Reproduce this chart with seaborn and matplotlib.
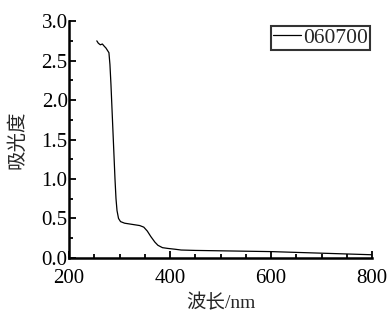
import numpy as np
import pandas as pd
import matplotlib
matplotlib.use('Agg')
import matplotlib.pyplot as plt
from matplotlib.ticker import MultipleLocator
import seaborn as sns

# UV-Vis spectrum
wavelength = [255, 258, 262, 266, 270, 273, 276, 279, 281, 283, 285, 287, 289, 291,
              293, 295, 298, 302, 310, 320, 330, 340, 348, 355, 362, 370, 376, 385,
              396, 410, 422, 450, 500, 550, 600, 650, 700, 750, 800]
absorbance = [2.75, 2.72, 2.70, 2.71, 2.68, 2.66, 2.63, 2.60, 2.45, 2.20, 1.90, 1.60, 1.30, 1.00,
              0.75, 0.60, 0.50, 0.46, 0.44, 0.43, 0.42, 0.41, 0.39, 0.34, 0.27, 0.20, 0.16, 0.13,
              0.12, 0.11, 0.10, 0.095, 0.09, 0.085, 0.08, 0.07, 0.06, 0.05, 0.04]
sample = '060700'

df = pd.DataFrame({'wl': wavelength, 'abs': absorbance, 'sample': sample})

sns.set_style('ticks')
plt.rcParams['font.family'] = ['Liberation Serif', 'Noto Sans CJK SC']

fig = plt.figure(figsize=(3.9, 3.2), dpi=100)
ax = fig.add_axes([0.177, 0.194, 0.777, 0.74])

sns.lineplot(data=df, x='wl', y='abs', hue='sample', palette=['black'], lw=0.9, ax=ax)

ax.set_xlim(200, 800)
ax.set_ylim(0, 3.0)
ax.xaxis.set_major_locator(MultipleLocator(200))
ax.xaxis.set_minor_locator(MultipleLocator(50))
ax.yaxis.set_major_locator(MultipleLocator(0.5))
ax.yaxis.set_minor_locator(MultipleLocator(0.25))
ax.tick_params(which='both', direction='in', width=1.3, labelsize=15, colors='black')
ax.tick_params(axis='y', pad=1)
ax.tick_params(axis='x', pad=8)
ax.tick_params(which='major', length=5)
ax.tick_params(which='minor', length=3)

for s in ['top', 'right']:
    ax.spines[s].set_visible(False)
for s in ['left', 'bottom']:
    ax.spines[s].set_linewidth(1.8)
    ax.spines[s].set_color('black')

ax.set_xlabel('波长/nm', fontsize=14, labelpad=4)
ax.set_ylabel('吸光度', fontsize=14, labelpad=0)
ax.yaxis.set_label_coords(-0.14, 0.5)

leg = ax.legend(loc='upper right', fontsize=15.5, frameon=True, fancybox=False,
                handlelength=1.3, handletextpad=0.1, borderpad=0.1,
                borderaxespad=0.1, title=None, bbox_to_anchor=(1.0, 0.99))
leg.get_frame().set_edgecolor('black')
leg.get_frame().set_linewidth(1.5)

fig.savefig('out.png', dpi=100)
